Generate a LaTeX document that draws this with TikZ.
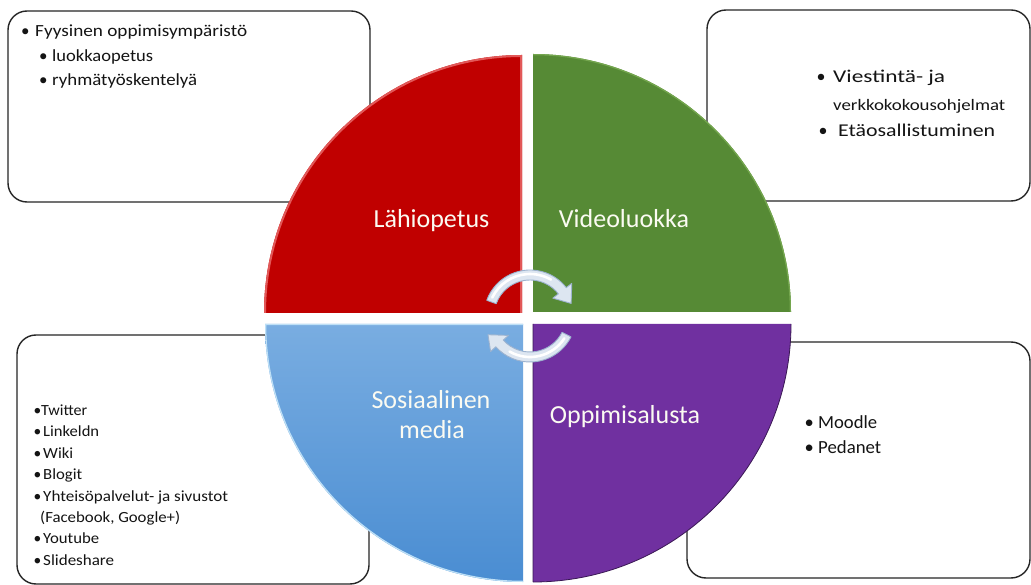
\documentclass[tikz,border=0pt]{standalone}
\usepackage{fontspec}
\setmainfont{Carlito}
\usepackage{graphicx}
\usetikzlibrary{calc}

% text squeezed/stretched horizontally to a given width, height kept
\newcommand{\fitw}[2]{\resizebox{#1}{\height}{#2}}
% bullet followed by text starting a fixed distance after it
\newcommand{\bul}[2]{\makebox[#1][l]{•}#2}

\definecolor{qred}{HTML}{C00000}
\definecolor{qredrim}{HTML}{E25858}
\definecolor{qgreen}{HTML}{568A35}
\definecolor{qgreenrim}{HTML}{74A64E}
\definecolor{qbluetop}{HTML}{79ADE1}
\definecolor{qbluebot}{HTML}{4A8DD2}
\definecolor{qbluerim}{HTML}{BEE0F6}
\definecolor{qpurple}{HTML}{7030A0}
\definecolor{qpurplerim}{HTML}{3A1854}
\definecolor{arrfill}{HTML}{DDE6F1}
\definecolor{arredge}{HTML}{9DB3CF}
\definecolor{boxline}{HTML}{262626}
\definecolor{labeltext}{HTML}{FBFBF2}

\tikzset{
  listbox/.style={draw=boxline, line width=1.4pt, fill=white, rounded corners=19pt},
  qlabel/.style={text=labeltext, font=\fontsize{26}{30}\selectfont, anchor=base, inner sep=0pt},
  itm/.style={anchor=base west, inner sep=0pt, text=black!92},
  cyclearrow/.style={fill=arrfill, draw=arredge, line width=0.9pt, line join=round},
  arrowgloss/.style={draw=white, line width=2.6pt, line cap=round},
}

\begin{document}
\begin{tikzpicture}[x=1pt, y=-1pt]
  \useasboundingbox (0,0) rectangle (1031,585);
  \clip (0,0) rectangle (1031,585);
  \fill[white] (0,0) rectangle (1031,585);

  % list boxes behind the circle
  \draw[listbox] (8,11) rectangle (370,202);
  \draw[listbox] (707,10) rectangle (1030,201);
  \draw[listbox] (17,335) rectangle (369,584);
  \draw[listbox] (687,342) rectangle (1030,578);

  % the four quarters of the circle
  \def\redq{(522,313) -- (264,313) arc[start angle=180, end angle=270, radius=258] -- cycle}
  \def\greenq{(533,312) -- (533,54) arc[start angle=270, end angle=360, radius=258] -- cycle}
  \def\blueq{(523,324) -- (265,324) arc[start angle=180, end angle=90, radius=258] -- cycle}
  \def\purpleq{(533,324) -- (791,324) arc[start angle=0, end angle=90, radius=258] -- cycle}

  \fill[qred] \redq;
  \begin{scope}
    \clip \redq;
    \draw[qredrim, line width=4pt] (264,313) arc[start angle=180, end angle=270, radius=258] -- (522,313);
  \end{scope}

  \fill[qgreen] \greenq;
  \begin{scope}
    \clip \greenq;
    \draw[qgreenrim, line width=2.5pt] (533,54) arc[start angle=270, end angle=360, radius=258];
  \end{scope}

  \shade[top color=qbluetop, bottom color=qbluebot] \blueq;
  \begin{scope}
    \clip \blueq;
    \draw[qbluerim, line width=2.5pt] (523,324) -- (265,324) arc[start angle=180, end angle=90, radius=258];
  \end{scope}

  \fill[qpurple] \purpleq;
  \draw[qpurplerim, line width=0.8pt] (533,582) -- (533,324)
        (791,324) arc[start angle=0, end angle=90, radius=258];

  % circular arrows in the middle
  \begin{scope}[shift={(530,316)}]
    \path[cyclearrow] (200:46) arc[start angle=200, end angle=322, radius=46]
      -- (322:53) -- (343:43) -- (322:29) -- (322:36)
      arc[start angle=322, end angle=200, radius=36] -- cycle;
    \draw[arrowgloss] (206:42) arc[start angle=206, end angle=300, radius=42];

    \path[cyclearrow] (27:46) arc[start angle=27, end angle=138, radius=46]
      -- (138:53) -- (156:46) -- (138:29) -- (138:36)
      arc[start angle=138, end angle=27, radius=36] -- cycle;
    \draw[arrowgloss] (33:41) arc[start angle=33, end angle=120, radius=41];
  \end{scope}

  % quarter labels
  \node[qlabel] (lahi)  at (431.5,228) {Lähiopetus};
  \node[qlabel] (video) at (624,228)   {Videoluokka};
  \node[qlabel] (sos1)  at (431,408)   {Sosiaalinen};
  \node[qlabel] (sos2)  at (432,438)   {media};
  \node[qlabel] (oppi)  at (625,423)   {Oppimisalusta};

  % top left list
  \begin{scope}[every node/.append style={itm, font=\fontsize{17}{20}\selectfont}]
    \node (tl1) at (21,37)   {\bul{14pt}{\fitw{212pt}{Fyysinen oppimisympäristö}}};
    \node (tl2) at (39,61.5) {\bul{13pt}{\fitw{101pt}{luokkaopetus}}};
    \node (tl3) at (39,86)   {\bul{13pt}{\fitw{145pt}{ryhmätyöskentelyä}}};
  \end{scope}

  % top right list
  \node[itm, font=\fontsize{18}{21}\selectfont] (tr1) at (816.5,83)
    {\bul{16.5pt}{\fitw{112pt}{Viestintä- ja}}};
  \node[itm, font=\fontsize{16}{19}\selectfont] (tr2) at (833,111)
    {\fitw{172pt}{verkkokokousohjelmat}};
  \node[itm, font=\fontsize{18}{21}\selectfont] (tr3) at (818.5,137)
    {\bul{19.5pt}{\fitw{157pt}{Etäosallistuminen}}};

  % bottom left list
  \begin{scope}[every node/.append style={itm, font=\fontsize{15.5}{18}\selectfont}]
    \node (bl1) at (33.5,415)   {\bul{7.5pt}{\fitw{46pt}{Twitter}}};
    \node (bl2) at (33.5,436.5) {\bul{9.5pt}{\fitw{56pt}{Linkeldn}}};
    \node (bl3) at (33.5,458)   {\bul{9.5pt}{\fitw{30pt}{Wiki}}};
    \node (bl4) at (33.5,479.5) {\bul{9.5pt}{\fitw{39pt}{Blogit}}};
    \node (bl5) at (33.5,501)   {\bul{9.5pt}{\fitw{185pt}{Yhteisöpalvelut- ja sivustot}}};
    \node (bl6) at (40,522)     {\fitw{140pt}{(Facebook, Google+)}};
    \node (bl7) at (33.5,543.5) {\bul{9.5pt}{\fitw{56pt}{Youtube}}};
    \node (bl8) at (33.5,565)   {\bul{9.5pt}{\fitw{71pt}{Slideshare}}};
  \end{scope}

  % bottom right list
  \begin{scope}[every node/.append style={itm, font=\fontsize{18.5}{22}\selectfont}]
    \node (br1) at (804.5,428) {\bul{13.5pt}{\fitw{59pt}{Moodle}}};
    \node (br2) at (804.5,453) {\bul{13.5pt}{\fitw{63pt}{Pedanet}}};
  \end{scope}
\end{tikzpicture}
\end{document}
